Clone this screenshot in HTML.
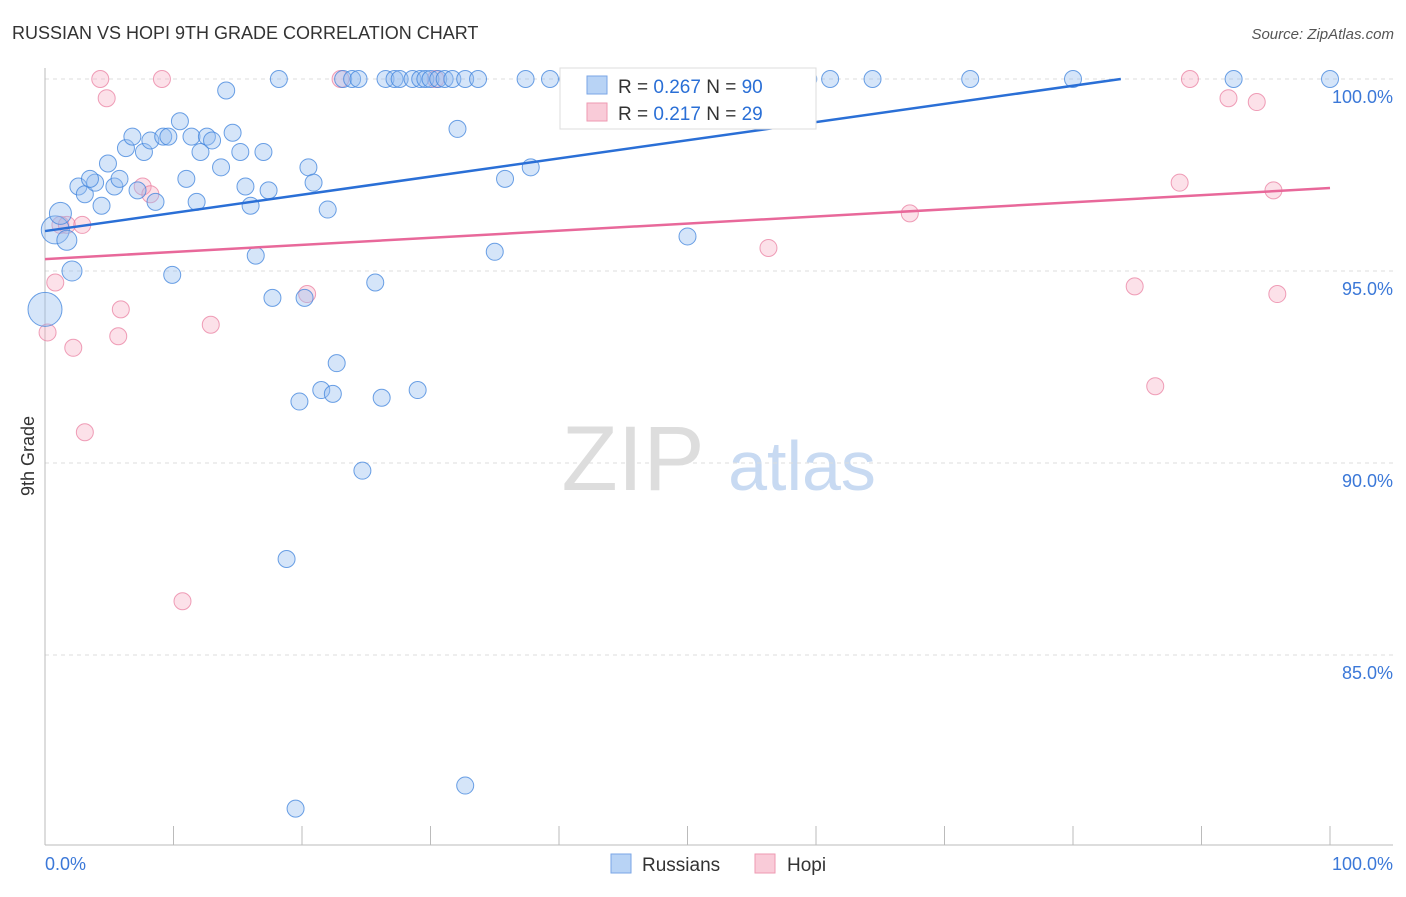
<!DOCTYPE html>
<html><head><meta charset="utf-8"><style>
body{margin:0;background:#fff;font-family:"Liberation Sans",sans-serif}
svg text{font-family:"Liberation Sans",sans-serif}
</style></head><body>
<svg id="c" width="1406" height="892">
<text x="12" y="39" font-size="18" fill="#333">RUSSIAN VS HOPI 9TH GRADE CORRELATION CHART</text>
<text x="1394" y="39" font-size="15" fill="#555" font-style="italic" text-anchor="end">Source: ZipAtlas.com</text>
<g><text x="633" y="490" font-size="92" fill="#ddd" font-family="Liberation Serif" text-anchor="middle">ZIP</text><text x="802" y="490" font-size="70" fill="#c8daf2" text-anchor="middle">atlas</text></g>
<g id="grid"></g><g id="axes"></g><g id="pts"></g><g id="lines"></g>
<text transform="translate(34,456) rotate(-90)" font-size="18" fill="#333" text-anchor="middle">9th Grade</text>
<g>
<rect x="560" y="68" width="256" height="61" fill="#fff" stroke="#ddd"/>
<rect x="587" y="76" width="20" height="18" fill="#b8d3f5" stroke="#7aa6e6"/>
<text x="618" y="93" font-size="19" fill="#333">R = <tspan fill="#2a6fd6">0.267</tspan>   N = <tspan fill="#2a6fd6">90</tspan></text>
<rect x="587" y="103" width="20" height="18" fill="#f9cbd8" stroke="#ee9ab2"/>
<text x="618" y="120" font-size="19" fill="#333">R =  <tspan fill="#2a6fd6">0.217</tspan>   N =  <tspan fill="#2a6fd6">29</tspan></text>
</g>
<g>
<rect x="611" y="854" width="20" height="19" fill="#b8d3f5" stroke="#7aa6e6"/>
<text x="642" y="871" font-size="19" fill="#333">Russians</text>
<rect x="755" y="854" width="20" height="19" fill="#f9cbd8" stroke="#ee9ab2"/>
<text x="787" y="871" font-size="19" fill="#333">Hopi</text>
</g>
</svg>
<script>
const yTicks=[100,95,90,85];
const yTickLabels=["100.0%","95.0%","90.0%","85.0%"];
const xTickLabels=["0.0%","100.0%"];
const rusX=[0.8,1.2,1.7,2.1,0,2.6,3.1,3.9,3.5,4.4,4.9,5.4,5.8,6.3,6.8,7.2,7.7,8.2,8.6,9.2,9.6,9.9,10.5,11.0,11.4,11.8,12.1,12.6,13.0,13.7,14.1,14.6,15.2,15.6,16.0,16.4,17.0,17.4,17.7,18.2,18.8,19.5,19.8,20.2,20.5,20.9,21.5,22.0,22.4,22.7,23.2,23.9,24.4,24.7,25.7,26.2,26.5,27.2,27.6,28.6,29.0,29.2,29.6,30.0,30.6,31.1,31.7,32.1,32.7,32.7,33.7,35.0,35.8,37.4,37.8,39.3,40.7,47.1,50.0,52.4,59.4,61.1,64.4,72.0,80.0,92.5,100];
const rusY=[96.07,96.5,95.8,95.0,94.0,97.2,97.0,97.3,97.4,96.7,97.8,97.2,97.4,98.2,98.5,97.1,98.1,98.4,96.8,98.5,98.5,94.9,98.9,97.4,98.5,96.8,98.1,98.5,98.4,97.7,99.7,98.6,98.1,97.2,96.7,95.4,98.1,97.1,94.3,100,87.5,81.0,91.6,94.3,97.7,97.3,91.9,96.6,91.8,92.6,100,100,100,89.8,94.7,91.7,100,100,100,100,91.9,100,100,100,100,100,100,98.7,100,81.6,100,95.5,97.4,100,97.7,100,100,100,95.9,100,100,100,100,100,100,100,100];
const rusR=[14,11,10,10,17];
const hopiX=[0.2,0.8,1.2,1.7,2.2,2.9,3.1,4.3,4.8,5.7,5.9,7.6,8.2,9.1,10.7,12.9,20.4,23.0,30.4,56.3,67.3,84.8,86.4,88.3,89.1,92.1,94.3,95.6,95.9];
const hopiY=[93.4,94.7,96.2,96.2,93.0,96.2,90.8,100,99.5,93.3,94.0,97.2,97.0,100,86.4,93.6,94.4,100,100,95.6,96.5,94.6,92.0,97.3,100,99.5,99.4,97.1,94.4];
const rusTrend=[96.04,100.77];
const hopiTrend=[95.31,97.16];
const NS="http://www.w3.org/2000/svg";
const X0=45,X1=1330,Y100=79,PPU=38.4;
const sx=v=>X0+(X1-X0)*v/100;
const sy=v=>Y100+(100-v)*PPU;
function mk(tag,attrs,parent){const e=document.createElementNS(NS,tag);for(const k in attrs)e.setAttribute(k,attrs[k]);document.getElementById(parent).appendChild(e);return e;}
yTicks.forEach((t,i)=>{
 const l=mk('line',{x1:X0,x2:1393,y1:sy(t),y2:sy(t),stroke:'#ddd','stroke-dasharray':'4,4'},'grid');
 
 
 const tx=mk('text',{x:1393,y:sy(t)+24,'font-size':18,fill:'#3b78d8','text-anchor':'end'},'grid');
 tx.textContent=yTickLabels[i];
 
 
});
const ax=mk('line',{x1:X0,x2:X0,y1:68,y2:845,stroke:'#bbb'},'axes');


const bx=mk('line',{x1:X0,x2:1393,y1:845,y2:845,stroke:'#bbb'},'axes');


for(let i=0;i<=10;i++){const t=mk('line',{x1:sx(i*10),x2:sx(i*10),y1:826,y2:845,stroke:'#bbb'},'axes');
 
 }
const xl0=mk('text',{x:45,y:870,'font-size':18,fill:'#3b78d8'},'axes');xl0.textContent=xTickLabels[0];


const xl1=mk('text',{x:1393,y:870,'font-size':18,fill:'#3b78d8','text-anchor':'end'},'axes');xl1.textContent=xTickLabels[1];


hopiX.forEach((v,i)=>{const c=mk('circle',{cx:sx(v),cy:sy(hopiY[i]),r:8.5,fill:'rgba(246,170,192,0.35)',stroke:'rgba(232,120,155,0.7)'},'pts');
 
 });
rusX.forEach((v,i)=>{const c=mk('circle',{cx:sx(v),cy:sy(rusY[i]),r:rusR[i]||8.5,fill:'rgba(150,190,240,0.4)',stroke:'rgba(60,130,220,0.75)'},'pts');
 
 });
// blue trend clipped at 100
const xEnd=(100-rusTrend[0])/(rusTrend[1]-rusTrend[0])*100;
const lb=mk('line',{x1:sx(0),y1:sy(rusTrend[0]),x2:sx(Math.min(100,xEnd)),y2:sy(Math.min(100,rusTrend[1])),stroke:'#2a6fd6','stroke-width':2.5},'lines');


const lp=mk('line',{x1:sx(0),y1:sy(hopiTrend[0]),x2:sx(100),y2:sy(hopiTrend[1]),stroke:'#e8689a','stroke-width':2.5},'lines');


</script>
</body></html>
